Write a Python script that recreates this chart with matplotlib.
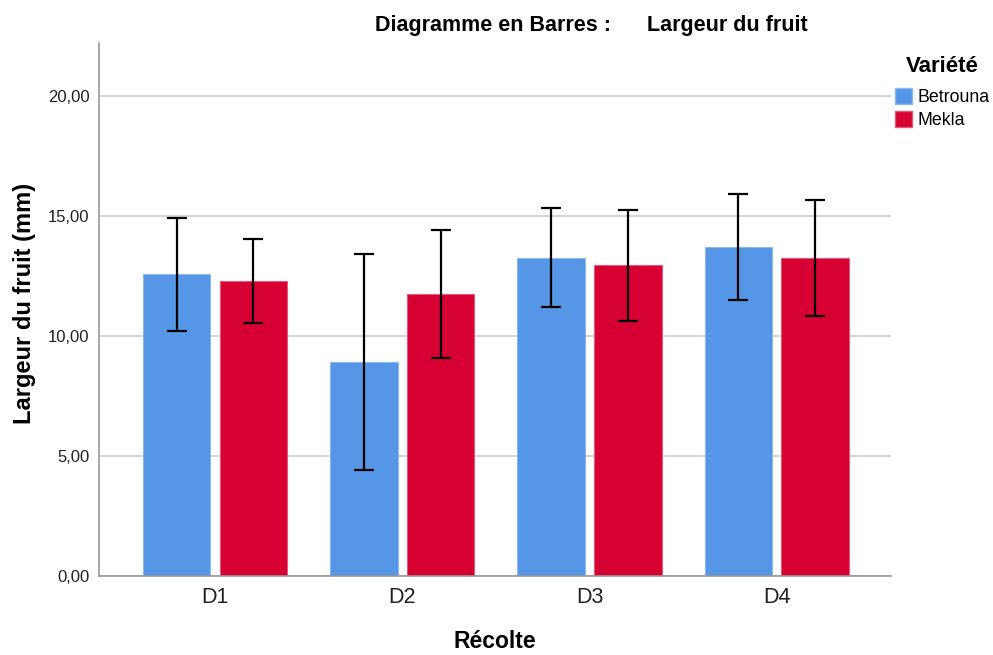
import matplotlib
matplotlib.use("Agg")
import matplotlib.pyplot as plt
import numpy as np
from matplotlib.patches import Patch

plt.rcParams['font.family'] = ['Liberation Sans', 'DejaVu Sans']

categories = ["D1", "D2", "D3", "D4"]
series_names = ["Betrouna", "Mekla"]
betrouna_mean = [12.57, 8.91, 13.26, 13.70]
betrouna_err = [2.35, 4.51, 2.07, 2.21]
mekla_mean = [12.28, 11.76, 12.94, 13.25]
mekla_err = [1.75, 2.66, 2.31, 2.42]
yticks = [0, 5, 10, 15, 20]
ytick_labels = ["0,00", "5,00", "10,00", "15,00", "20,00"]

colors = ["#5596E6", "#D60032"]
edges = ["#8CB8EE", "#E5587A"]

fig = plt.figure(figsize=(9.93, 6.55), dpi=100)
ax = fig.add_axes([99/993, 1 - 576/655, (891-99)/993, (576-43)/655])

x = np.arange(len(categories))
w = 0.36
off = 0.205
for i, (m, e) in enumerate([(betrouna_mean, betrouna_err), (mekla_mean, mekla_err)]):
    pos = x + (-off if i == 0 else off)
    ax.bar(pos, m, width=w, color=colors[i], edgecolor=edges[i], linewidth=0.8, zorder=2)
    ax.errorbar(pos, m, yerr=e, fmt='none', ecolor='black', elinewidth=1.6,
                capsize=7, capthick=1.6, zorder=3)

ax.set_xlim(-0.62, 3.61)
ax.set_ylim(0, 22.2)
ax.set_yticks(yticks)
ax.set_yticklabels(ytick_labels, fontsize=12, color='#222222')
ax.set_xticks(x)
ax.set_xticklabels(categories, fontsize=15.5, color='#222222')
ax.tick_params(axis='x', length=0, pad=8)
ax.tick_params(axis='y', length=0, pad=7)
ax.yaxis.grid(True, color='#CCCCCC', linewidth=1.2, zorder=0)
ax.set_axisbelow(True)
for s in ['top', 'right']:
    ax.spines[s].set_visible(False)
ax.spines['left'].set_color('#999999')
ax.spines['bottom'].set_color('#999999')
ax.spines['left'].set_linewidth(1.2)
ax.spines['bottom'].set_linewidth(1.2)

ax.set_ylabel("Largeur du fruit (mm)", fontsize=17, fontweight='bold')
ax.yaxis.set_label_coords(-63/792, (576 - 303) / 533)
ax.set_xlabel("Récolte", fontsize=16.5, fontweight='bold', labelpad=16)

fig.text(591/993, 1 - 25/655, "Diagramme en Barres :      Largeur du fruit",
         ha='center', va='center', fontsize=15.5, fontweight='bold')

handles = [Patch(facecolor=colors[i], edgecolor=edges[i], label=series_names[i]) for i in range(2)]
leg = fig.legend(handles=handles, title="Variété", loc='upper left',
                 bbox_to_anchor=(895/993, 1 - 56/655), frameon=False,
                 fontsize=12.8, title_fontproperties={'weight': 'bold', 'size': 16},
                 handlelength=0.96, handleheight=0.96, handletextpad=0.32,
                 labelspacing=0.3, borderpad=0.0, borderaxespad=0.0)
leg._legend_box.sep = 8

fig.savefig("out.png", dpi=100)
